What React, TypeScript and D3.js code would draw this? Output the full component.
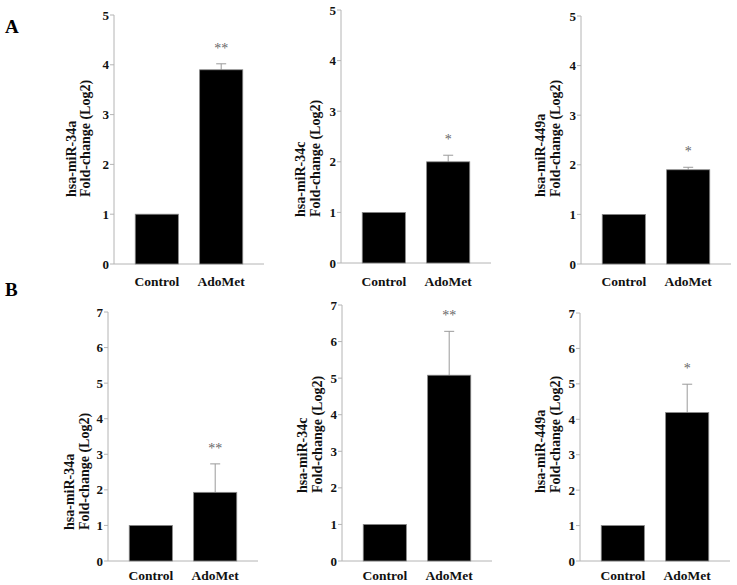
import React from "react";
import * as d3 from "d3";

const categories = ["Control", "AdoMet"];
const genes = ["hsa-miR-34a", "hsa-miR-34c", "hsa-miR-449a"];
const yLabelLine2 = "Fold-change (Log2)";

// Panel A
const controlA = [1, 1, 1];
const adoMetA = [3.9, 2.0, 1.9];
const errA = [0.12, 0.13, 0.05];
const starsA = ["**", "*", "*"];
const ticksA = [0, 1, 2, 3, 4, 5];

// Panel B
const controlB = [1, 1, 1];
const adoMetB = [1.93, 5.08, 4.19];
const errB = [0.8, 1.2, 0.8];
const starsB = ["**", "**", "*"];
const ticksB = [0, 1, 2, 3, 4, 5, 6, 7];

// layout (pixel positions of each sub-plot)
const layoutA = [
  { x: 114, top: 15, bottom: 264, labelBottom: 197, l1: 76, l2: 90 },
  { x: 341, top: 10, bottom: 263, labelBottom: 217, l1: 305, l2: 320 },
  { x: 581, top: 16, bottom: 264, labelBottom: 197, l1: 545, l2: 560 },
];
const layoutB = [
  { x: 108, top: 312, bottom: 561, labelBottom: 530, l1: 74, l2: 89 },
  { x: 342, top: 305, bottom: 561, labelBottom: 493, l1: 307, l2: 322 },
  { x: 580, top: 313, bottom: 561, labelBottom: 493, l1: 545, l2: 560 },
];

const FONT = "'Liberation Serif', 'Times New Roman', serif";
const AXIS = "#b4b4b4";
const ERR = "#9a9a9a";
const STAR = "#666";

function Panel({ lay, control, ado, err, star, ticks, gene, catY }) {
  const yMax = ticks[ticks.length - 1];
  const y = d3.scaleLinear().domain([0, yMax]).range([lay.bottom, lay.top]);
  const x = d3
    .scaleBand()
    .domain(categories)
    .range([lay.x, lay.x + 150])
    .paddingInner(0.33)
    .paddingOuter(0.33);
  const values = [control, ado];
  const errs = [0, err];
  const bw = x.bandwidth();
  return (
    <g>
      {/* axes */}
      <line x1={lay.x} x2={lay.x} y1={y(0)} y2={y(yMax)} stroke={AXIS} strokeWidth={1} />
      <line x1={lay.x} x2={lay.x + 150} y1={y(0)} y2={y(0)} stroke={AXIS} strokeWidth={1} />
      {ticks.map((t) => (
        <g key={t}>
          <line x1={lay.x - 4} x2={lay.x} y1={y(t)} y2={y(t)} stroke={AXIS} strokeWidth={1} />
          <text
            x={lay.x - 5}
            y={y(t)}
            dy="0.35em"
            textAnchor="end"
            fontFamily={FONT}
            fontWeight="bold"
            fontSize={13}
            fill="#111"
          >
            {t}
          </text>
        </g>
      ))}
      {/* bars */}
      {categories.map((c, i) => {
        const v = values[i];
        const e = errs[i];
        const cx = x(c)! + bw / 2;
        return (
          <g key={c}>
            {e > 0 && (
              <g>
                <line x1={cx} x2={cx} y1={y(v)} y2={y(v + e)} stroke={ERR} strokeWidth={1} />
                <line x1={cx - 5} x2={cx + 5} y1={y(v + e)} y2={y(v + e)} stroke={ERR} strokeWidth={1} />
              </g>
            )}
            <rect x={x(c)} y={y(v)} width={bw} height={y(0) - y(v)} fill="#000" stroke="#888" strokeWidth={0.8} />
            <text
              x={cx}
              y={catY}
              textAnchor="middle"
              fontFamily={FONT}
              fontWeight="bold"
              fontSize={13.5}
              fill="#111"
            >
              {c}
            </text>
          </g>
        );
      })}
      <text
        x={x("AdoMet")! + bw / 2}
        y={y(ado + err) - 11}
        textAnchor="middle"
        fontFamily={FONT}
        fontSize={14}
        fill={STAR}
      >
        {star}
      </text>
      {/* y label */}
      <text
        transform={`translate(${lay.l1},${lay.labelBottom}) rotate(-90)`}
        fontFamily={FONT}
        fontWeight="bold"
        fontSize={14}
        fill="#111"
      >
        {gene}
      </text>
      <text
        transform={`translate(${lay.l2},${lay.labelBottom}) rotate(-90)`}
        fontFamily={FONT}
        fontWeight="bold"
        fontSize={14}
        fill="#111"
      >
        {yLabelLine2}
      </text>
    </g>
  );
}

export default function App() {
  return (
    <svg
      width={737}
      height={585}
      style={{ position: "absolute", left: 0, top: 0, background: "#fff" }}
    >
      <rect width={737} height={585} fill="#fff" />
      <text x={5} y={33} fontFamily={FONT} fontWeight="bold" fontSize={19} fill="#000">
        A
      </text>
      <text x={5} y={296} fontFamily={FONT} fontWeight="bold" fontSize={19} fill="#000">
        B
      </text>
      {genes.map((g, i) => (
        <Panel
          key={"A" + i}
          lay={layoutA[i]}
          control={controlA[i]}
          ado={adoMetA[i]}
          err={errA[i]}
          star={starsA[i]}
          ticks={ticksA}
          gene={g}
          catY={286}
        />
      ))}
      {genes.map((g, i) => (
        <Panel
          key={"B" + i}
          lay={layoutB[i]}
          control={controlB[i]}
          ado={adoMetB[i]}
          err={errB[i]}
          star={starsB[i]}
          ticks={ticksB}
          gene={g}
          catY={580}
        />
      ))}
    </svg>
  );
}
